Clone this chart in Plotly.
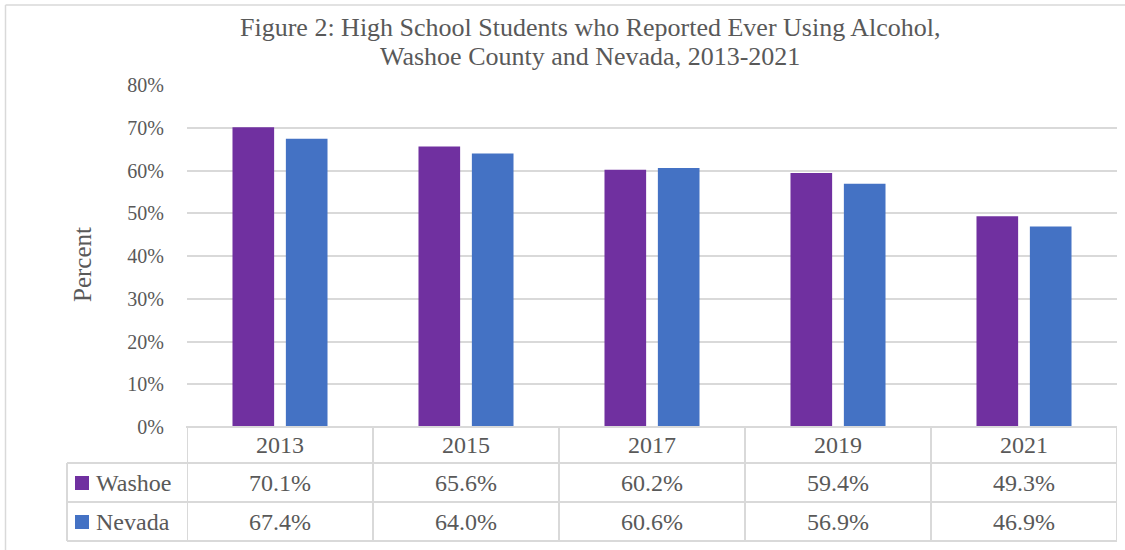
import plotly.graph_objects as go

years = ["2013", "2015", "2017", "2019", "2021"]
washoe = [70.1, 65.6, 60.2, 59.4, 49.3]
nevada = [67.4, 64.0, 60.6, 56.9, 46.9]
series_names = ["Washoe", "Nevada"]
series_colors = ["#7030A0", "#4472C4"]
y_ticks = [0, 10, 20, 30, 40, 50, 60, 70, 80]
y_tick_labels = [f"{v}%" for v in y_ticks]
title_lines = ["Figure 2: High School Students who Reported Ever Using Alcohol,",
               "Washoe County and Nevada, 2013-2021"]

W, H = 1125, 550
ML, MR, MT, MB = 187, 8, 85, 123
PW, PH = W - ML - MR, H - MT - MB

FONT = "Palatino Linotype, Book Antiqua, Palatino, Liberation Serif, serif"
TXT = "#595959"
GRID = "#D9D9D9"


def px_x(x):
    return (x - ML) / PW


def px_y(y):
    return (H - MB - y) / PH


fig = go.Figure()
for name, vals, col in zip(series_names, [washoe, nevada], series_colors):
    fig.add_trace(go.Bar(x=years, y=vals, name=name, marker_color=col,
                         marker_line_width=0, showlegend=False))

shapes = []
annotations = []

# outer chart frame (left and top edges)
shapes.append(dict(type="line", xref="paper", yref="paper",
                   x0=px_x(5.5), x1=px_x(5.5), y0=px_y(552), y1=px_y(5),
                   line=dict(color=GRID, width=1.5)))
shapes.append(dict(type="line", xref="paper", yref="paper",
                   x0=px_x(5.5), x1=px_x(1126), y0=px_y(5), y1=px_y(5),
                   line=dict(color=GRID, width=1.5)))

# data table grid
row_lines = [427, 463, 502, 541]
for i, ry in enumerate(row_lines):
    x0 = 186 if i == 0 else 67
    shapes.append(dict(type="line", xref="paper", yref="paper",
                       x0=px_x(x0), x1=px_x(1117), y0=px_y(ry), y1=px_y(ry),
                       line=dict(color=GRID, width=2)))
shapes.append(dict(type="line", xref="paper", yref="paper",
                   x0=px_x(67), x1=px_x(67), y0=px_y(463), y1=px_y(541),
                   line=dict(color=GRID, width=2)))
for k in range(len(years) + 1):
    shapes.append(dict(type="line", xref="x", yref="paper",
                       x0=k - 0.5, x1=k - 0.5, y0=px_y(427), y1=px_y(541),
                       line=dict(color=GRID, width=2)))

cell_font = dict(size=24, color=TXT, family=FONT)

# table contents
for i, yr in enumerate(years):
    annotations.append(dict(x=i, y=px_y(445), xref="x", yref="paper", text=yr,
                            showarrow=False, xanchor="center", yanchor="middle",
                            font=cell_font))
    for vals, ry in [(washoe, 483), (nevada, 522)]:
        annotations.append(dict(x=i, y=px_y(ry), xref="x", yref="paper",
                                text=f"{vals[i]:.1f}%", showarrow=False,
                                xanchor="center", yanchor="middle", font=cell_font))

# legend keys inside the table
for name, col, ry in zip(series_names, series_colors, [483, 522]):
    shapes.append(dict(type="rect", xref="paper", yref="paper",
                       x0=px_x(75), x1=px_x(89), y0=px_y(ry + 7), y1=px_y(ry - 7),
                       fillcolor=col, line=dict(width=0)))
    annotations.append(dict(x=px_x(94), y=px_y(ry), xref="paper", yref="paper",
                            text=name, showarrow=False, xanchor="left",
                            yanchor="middle", font=cell_font))

# y-axis title
annotations.append(dict(x=px_x(82), y=px_y(265), xref="paper", yref="paper",
                        text="Percent", showarrow=False, textangle=-90,
                        xanchor="center", yanchor="middle",
                        font=dict(size=25, color=TXT, family=FONT)))

# chart title, one annotation per line
for line, cy in zip(title_lines, [27, 57]):
    annotations.append(dict(x=px_x(590), y=px_y(cy), xref="paper", yref="paper",
                            text=line, showarrow=False, xanchor="center",
                            yanchor="middle",
                            font=dict(size=26, color=TXT, family=FONT)))

fig.update_layout(
    width=W, height=H,
    margin=dict(l=ML, r=MR, t=MT, b=MB),
    paper_bgcolor="white", plot_bgcolor="white",
    barmode="group", bargap=0.426, bargroupgap=0.22,
    shapes=shapes, annotations=annotations,
    font=dict(family=FONT, color=TXT),
    xaxis=dict(type="category", range=[-0.5, 4.5], showticklabels=False,
               showgrid=False, zeroline=False, showline=False, ticks=""),
    yaxis=dict(range=[0, 80], tickmode="array", tickvals=y_ticks,
               ticktext=y_tick_labels,
               showgrid=True, gridcolor=GRID, gridwidth=2, zeroline=False,
               showline=False, ticks="", ticklabelstandoff=22,
               tickfont=dict(size=20, color=TXT, family=FONT)),
)

fig.write_html("out.html")
